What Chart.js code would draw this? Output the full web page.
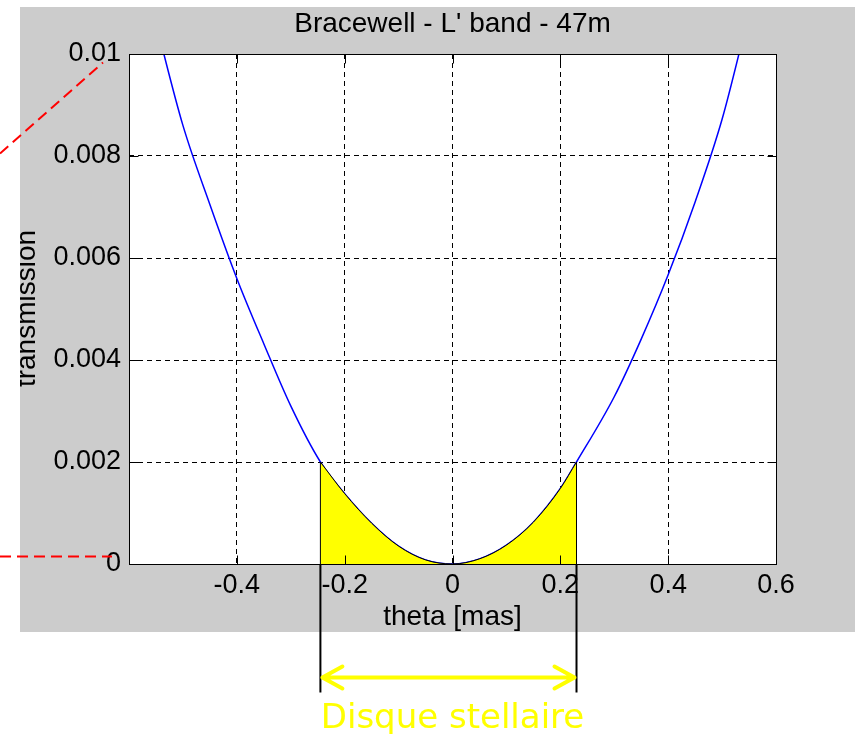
<!DOCTYPE html>
<html>
<head>
<meta charset="utf-8">
<title>Bracewell - L' band - 47m</title>
<script src="https://cdn.jsdelivr.net/npm/chart.js"></script>
<style>
  body { margin: 0; background: #fff; }
  canvas { display: block; }
</style>
</head>
<body>
<canvas id="chart" width="855" height="734"></canvas>
<script>
// Bracewell nuller transmission vs. off-axis angle (mas)
const theta = [-0.55, -0.50, -0.45, -0.40, -0.35, -0.30, -0.245, -0.20, -0.15, -0.10, -0.05,
               0, 0.05, 0.10, 0.15, 0.20, 0.23, 0.30, 0.35, 0.40, 0.45, 0.50, 0.55];
const transmission = [0.0106, 0.0086, 0.00705, 0.0056, 0.00432, 0.0031, 0.0020, 0.00138, 0.00080, 0.00035, 0.00008,
                      0.0, 0.00010, 0.00037, 0.00082, 0.00148, 0.0020, 0.00328, 0.00441, 0.00567, 0.0071, 0.00872, 0.0108];

// angular extent of the stellar disk (mas)
const diskEdges = [-0.245, 0.23];

const xTicks = [-0.6, -0.4, -0.2, 0, 0.2, 0.4, 0.6];
const xTickLabels = ['', '-0.4', '-0.2', '0', '0.2', '0.4', '0.6'];
const yTicks = [0, 0.002, 0.004, 0.006, 0.008, 0.01];
const yTickLabels = ['0', '0.002', '0.004', '0.006', '0.008', '0.01'];

const FONT = '"Liberation Sans", Arial, Helvetica, sans-serif';
const GRAY = '#cccccc';

const curve = theta.map((t, i) => ({ x: t, y: transmission[i] }));
const disk = curve.filter(p => p.x >= diskEdges[0] && p.x <= diskEdges[1]);

// no gridline on the outer edges, the frame covers them
const gridColor = ctx => (ctx.index === 0 || ctx.index === ctx.scale.ticks.length - 1) ? 'rgba(0,0,0,0)' : '#000';

const figure = {
    id: 'figure',
    beforeDraw(chart) {
        const { ctx, chartArea: a } = chart;
        ctx.save();
        ctx.fillStyle = '#fff';
        ctx.fillRect(0, 0, chart.width, chart.height);
        ctx.fillStyle = GRAY;
        ctx.fillRect(20, 7, chart.width - 20, 625);
        ctx.fillStyle = '#fff';
        ctx.fillRect(a.left, a.top, a.right - a.left, a.bottom - a.top);
        ctx.restore();
    },
    afterDatasetsDraw(chart) {
        const { ctx, chartArea: a, scales: { x, y } } = chart;
        const L = Math.round(a.left) + 0.5, R = Math.round(a.right) + 0.5;
        const T = Math.round(a.top) + 0.5, B = Math.round(a.bottom) + 0.5;
        ctx.save();
        ctx.strokeStyle = '#000';
        ctx.lineWidth = 1;
        ctx.setLineDash([]);
        // inner tick marks on all four sides
        ctx.beginPath();
        xTicks.forEach(v => {
            const px = Math.round(x.getPixelForValue(v)) + 0.5;
            ctx.moveTo(px, B); ctx.lineTo(px, B - 9);
            ctx.moveTo(px, T); ctx.lineTo(px, T + 9);
        });
        yTicks.forEach(v => {
            const py = Math.round(y.getPixelForValue(v)) + 0.5;
            ctx.moveTo(L, py); ctx.lineTo(L + 9, py);
            ctx.moveTo(R, py); ctx.lineTo(R - 9, py);
        });
        ctx.stroke();
        ctx.strokeRect(L, T, R - L, B - T);

        // disk edges, carried down below the axes
        const edgeTop = diskEdges.map(e => y.getPixelForValue(transmission[theta.indexOf(e)]));
        const edgeX = diskEdges.map(e => x.getPixelForValue(e));
        const lineEnd = B + 128;
        edgeX.forEach((ex, i) => {
            ctx.lineWidth = 1;
            ctx.beginPath();
            ctx.moveTo(ex, edgeTop[i]); ctx.lineTo(ex, B);
            ctx.stroke();
            ctx.lineWidth = 2;
            ctx.beginPath();
            ctx.moveTo(ex, B); ctx.lineTo(ex, lineEnd);
            ctx.stroke();
        });

        // double arrow across the disk
        const ay = B + 113;
        ctx.strokeStyle = '#ffff00';
        ctx.lineWidth = 4;
        ctx.lineCap = 'round';
        ctx.lineJoin = 'round';
        ctx.beginPath();
        ctx.moveTo(edgeX[0] + 2, ay); ctx.lineTo(edgeX[1] - 2, ay);
        ctx.moveTo(edgeX[0] + 22, ay - 11); ctx.lineTo(edgeX[0] + 2, ay); ctx.lineTo(edgeX[0] + 22, ay + 11);
        ctx.moveTo(edgeX[1] - 22, ay - 11); ctx.lineTo(edgeX[1] - 2, ay); ctx.lineTo(edgeX[1] - 22, ay + 11);
        ctx.stroke();

        ctx.fillStyle = '#ffff00';
        ctx.font = '34px "DejaVu Sans", ' + FONT;
        ctx.textAlign = 'center';
        ctx.textBaseline = 'alphabetic';
        ctx.fillText('Disque stellaire', (a.left + a.right) / 2, B + 163);

        // zoom guides coming from the left
        ctx.strokeStyle = '#ff0000';
        ctx.lineWidth = 2;
        ctx.lineCap = 'butt';
        ctx.setLineDash([11, 6]);
        ctx.beginPath();
        ctx.moveTo(0, T + 99); ctx.lineTo(a.left - 26, T + 8);
        ctx.moveTo(0, B - 8); ctx.lineTo(a.left - 17, B - 8);
        ctx.stroke();
        ctx.setLineDash([]);

        // y-axis label, clipped by the figure panel
        ctx.beginPath();
        ctx.rect(20, 7, chart.width - 20, 625);
        ctx.clip();
        ctx.fillStyle = '#000';
        ctx.font = '28px ' + FONT;
        ctx.translate(35, (a.top + a.bottom) / 2 - 0.5);
        ctx.rotate(-Math.PI / 2);
        ctx.fillText('transmission', 0, 0);
        ctx.restore();
    }
};

new Chart(document.getElementById('chart'), {
    type: 'line',
    data: {
        datasets: [
            {
                data: disk,
                borderColor: '#000',
                borderWidth: 1,
                backgroundColor: '#ffff00',
                fill: 'origin',
                pointRadius: 0,
                cubicInterpolationMode: 'monotone'
            },
            {
                data: curve,
                borderColor: '#0000ff',
                borderWidth: 1.5,
                fill: false,
                pointRadius: 0,
                cubicInterpolationMode: 'monotone'
            }
        ]
    },
    options: {
        responsive: false,
        animation: false,
        devicePixelRatio: 1,
        layout: { padding: { top: 0, left: 0, right: 79, bottom: 0 } },
        plugins: {
            legend: { display: false },
            tooltip: { enabled: false },
            title: {
                display: true,
                fullSize: false,
                text: "Bracewell - L' band - 47m",
                color: '#000',
                font: { family: FONT, size: 28, weight: 'normal' },
                padding: { top: 7, bottom: 13.4 }
            }
        },
        scales: {
            x: {
                type: 'linear',
                min: -0.6,
                max: 0.6,
                afterBuildTicks: s => { s.ticks = xTicks.map(v => ({ value: v })); },
                afterFit: s => { s.height = 170; },
                grid: { color: gridColor, lineWidth: 1, drawTicks: false },
                border: { display: false, dash: [5, 4] },
                ticks: {
                    color: '#000',
                    font: { family: FONT, size: 27 },
                    padding: 5,
                    maxRotation: 0,
                    autoSkip: false,
                    callback: (v, i) => xTickLabels[i]
                },
                title: {
                    display: true,
                    text: 'theta [mas]',
                    color: '#000',
                    font: { family: FONT, size: 28 },
                    padding: { top: 0, bottom: 100 }
                }
            },
            y: {
                min: 0,
                max: 0.01,
                afterBuildTicks: s => { s.ticks = yTicks.map(v => ({ value: v })); },
                afterFit: s => { s.width = 129; },
                grid: { color: gridColor, lineWidth: 1, drawTicks: false },
                border: { display: false, dash: [5, 4] },
                ticks: {
                    color: '#000',
                    font: { family: FONT, size: 27 },
                    padding: 8,
                    autoSkip: false,
                    callback: (v, i) => yTickLabels[i]
                }
            }
        }
    },
    plugins: [figure]
});
</script>
</body>
</html>
